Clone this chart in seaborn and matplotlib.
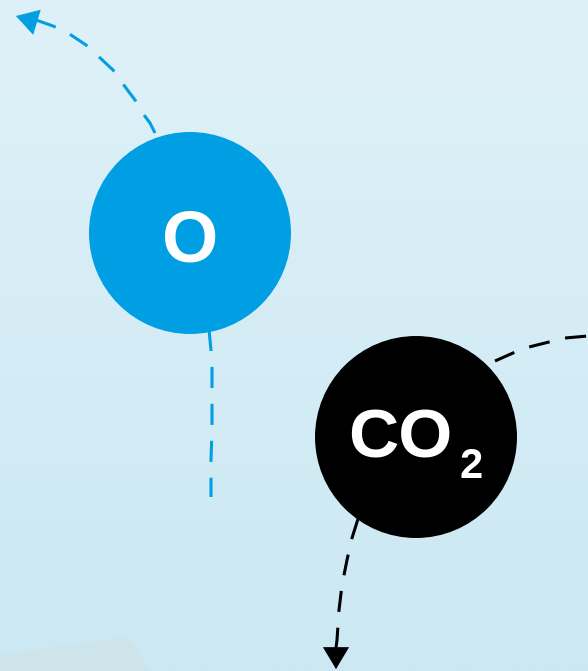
import numpy as np
import matplotlib.pyplot as plt
import seaborn as sns
from matplotlib.colors import LinearSegmentedColormap
from matplotlib.patches import Polygon

# molecules (centre in pixel coords)
mol_x = [190, 416]
mol_y = [233, 437]
mol_colors = ['#009fe3', '#000000']

# dashed paths
blue_up_x = [155, 150, 144, 135, 123, 113, 98, 86, 68, 53, 36]
blue_up_y = [133, 123, 115, 100, 84, 70, 56, 45, 33, 26, 20]
blue_down_x = [209, 211, 212, 212, 212, 211, 211]
blue_down_y = [330, 350, 370, 400, 430, 460, 497]
black_right_x = [495, 513, 529, 549, 565, 588]
black_right_y = [361, 353, 347, 342, 338, 336]
black_down_x = [358, 352, 347, 342, 339, 337, 336]
black_down_y = [519, 538, 560, 585, 610, 640, 648]

# arrow tips: (tip, point behind tip)
blue_tip = (16, 16)
blue_tail = (36, 22)
black_tip = (336, 669)
black_tail = (336, 647)

sns.set_style('white')
plt.rcParams['font.family'] = ['Liberation Sans', 'DejaVu Sans']

fig = plt.figure(figsize=(5.88, 6.71), dpi=100)
ax = fig.add_axes([0, 0, 1, 1])
ax.set_xlim(0, 588)
ax.set_ylim(671, 0)
ax.axis('off')

# background gradient
cmap = LinearSegmentedColormap.from_list('bg', ['#dff1f8', '#cbe8f3'])
grad = np.linspace(0, 1, 256).reshape(-1, 1)
ax.imshow(grad, cmap=cmap, extent=[0, 588, 671, 0], aspect='auto', zorder=0)
ax.add_patch(Polygon([[0, 655], [128, 637], [150, 671], [0, 671]],
                     closed=True, color='#cde5ea', lw=0, zorder=1))

for xs, ys, c in [(blue_up_x, blue_up_y, '#009fe3'),
                  (blue_down_x, blue_down_y, '#009fe3'),
                  (black_right_x, black_right_y, 'black'),
                  (black_down_x, black_down_y, 'black')]:
    sns.lineplot(x=xs, y=ys, sort=False, estimator=None, errorbar=None,
                 color=c, lw=2.2, ax=ax, zorder=2)

# dash pattern in points (~21px dash, ~16px gap)
for line in ax.lines:
    line.set_linewidth(2.2)
    line.set_linestyle((0, (6.9, 5.2)))

for tip, tail, c in [(blue_tip, blue_tail, '#009fe3'), (black_tip, black_tail, 'black')]:
    ax.annotate('', xy=tip, xytext=tail,
                arrowprops=dict(arrowstyle='-|>,head_length=15,head_width=9',
                                mutation_scale=1, color=c, lw=0.5,
                                shrinkA=0, shrinkB=0), zorder=3)

sns.scatterplot(x=mol_x, y=mol_y, hue=[0, 1], palette=mol_colors, s=21150,
                linewidth=0, legend=False, ax=ax, zorder=4)

ax.text(190, 262, 'O', color='white', fontsize=52, fontweight='bold',
        ha='center', va='baseline', zorder=5)
ax.text(452, 458, 'CO', color='white', fontsize=50, fontweight='bold',
        ha='right', va='baseline', zorder=5)
ax.text(471, 478, '2', color='white', fontsize=30, fontweight='bold',
        ha='center', va='baseline', zorder=5)

fig.savefig('out.png', dpi=100)
